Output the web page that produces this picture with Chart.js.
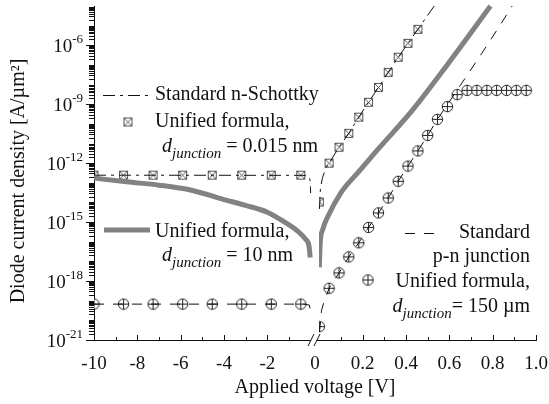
<!DOCTYPE html>
<html>
<head>
<meta charset="utf-8">
<title>Diode current density</title>
<script src="https://cdn.jsdelivr.net/npm/chart.js@4.4.0/dist/chart.umd.min.js"></script>
<style>
  html, body { margin: 0; padding: 0; background: #fff; }
  #wrap { width: 549px; height: 404px; }
</style>
</head>
<body>
<div id="wrap"><canvas id="diodeChart" width="549" height="404"></canvas></div>
<script>
// Diode current density vs applied voltage, broken x axis (reverse | forward)

const SERIF = '"Liberation Serif", "Times New Roman", serif';
const INK = '#111';
const GRAY = '#828282';

// x axis ticks (volts) and their labels
const xTickVolts  = [-10, -8, -6, -4, -2, 0, 0.2, 0.4, 0.6, 0.8, 1.0];
const xTickLabels = ['-10', '-8', '-6', '-4', '-2', '0', '0.2', '0.4', '0.6', '0.8', '1.0'];
const xMinorVolts = [-9, -7, -5, -3, -1, 0.1, 0.3, 0.5, 0.7, 0.9];

// y axis labelled ticks
const yTickValues = [1e-21, 1e-18, 1e-15, 1e-12, 1e-9, 1e-6];
const yTickExps   = ['-21', '-18', '-15', '-12', '-9', '-6'];

// marker voltages
const markerVoltsRev = [-10, -8.636, -7.273, -5.909, -4.545, -3.182, -1.818, -0.455];
const markerVoltsFwd = [0, 0.045, 0.091, 0.136, 0.182, 0.227, 0.273, 0.318, 0.364, 0.409, 0.455,
                        0.5, 0.545, 0.591, 0.636, 0.682, 0.727, 0.773, 0.818, 0.864, 0.909, 0.955];

// Standard n-Schottky (dash-dot line)
const schottkyRevVolts = [-10, -0.3, -0.08, -0.03, -0.01, -0.004];
const schottkyRevJ     = [2.45e-13, 2.4e-13, 2.1e-13, 1.4e-13, 6e-14, 3e-14];
const schottkyFwdVolts = [0.0005, 0.005, 0.015, 0.03, 0.045, 0.091, 0.136, 0.182, 0.227, 0.273,
                          0.318, 0.364, 0.409, 0.455, 0.53];
const schottkyFwdJ     = [4.7e-15, 5.4e-14, 1.9e-13, 5.6e-13, 1.0e-12, 6.5e-12, 3.3e-11, 2.2e-10,
                          1.26e-9, 7.2e-9, 4.2e-8, 2.45e-7, 1.26e-6, 6.5e-6, 1.0e-4];

// Unified formula, d = 0.015 nm (square markers)
const thinRevJ = [2.45e-13, 2.45e-13, 2.45e-13, 2.45e-13, 2.45e-13, 2.45e-13, 2.45e-13, 2.45e-13];
const thinFwdJ = [1.05e-14, 1.0e-12, 6.5e-12, 3.3e-11, 2.2e-10, 1.26e-9, 7.2e-9, 4.2e-8,
                  2.45e-7, 1.26e-6, 6.5e-6];

// Unified formula, d = 10 nm (thick gray line)
const midRevVolts = [-10, -8.5, -7, -5.5, -4, -3, -2, -1.2, -0.6, -0.25, -0.08, -0.02];
const midRevJ     = [1.74e-13, 1.12e-13, 7.6e-14, 4.2e-14, 1.41e-14, 7.1e-15, 3.2e-15, 1.0e-15,
                     3.5e-16, 1.41e-16, 6.3e-17, 1.6e-17];
const midFwdVolts = [0, 0.004, 0.015, 0.04, 0.1, 0.18, 0.27, 0.43, 0.59, 0.79];
const midFwdJ     = [5e-18, 8.5e-17, 4e-16, 2e-15, 3.2e-14, 3.5e-13, 5e-12, 5e-10, 1e-7, 1e-4];

// Standard p-n junction (dashed line)
const pnRevVolts = [-10, -0.3, -0.06, -0.02, -0.005];
const pnRevJ     = [6.7e-20, 6.7e-20, 6e-20, 3.5e-20, 1.5e-20];
const pnFwdVolts = [0.001, 0.01, 0.02, 0.045, 0.091, 0.136, 0.182, 0.227, 0.273, 0.318, 0.364,
                    0.409, 0.455, 0.5, 0.545, 0.664, 0.75, 0.833, 0.89];
const pnFwdJ     = [2.6e-21, 3.2e-20, 7.8e-20, 4.3e-19, 2.6e-18, 1.7e-17, 8.9e-17, 5.4e-16,
                    2.95e-15, 1.7e-14, 1.2e-13, 7.1e-13, 4.2e-12, 2.6e-11, 1.7e-10, 1.5e-8,
                    3.9e-7, 1.0e-5, 1.0e-4];

// Unified formula, d = 150 um (circle-plus markers)
const thickRevJ = [6.7e-20, 6.7e-20, 6.7e-20, 6.7e-20, 6.7e-20, 6.7e-20, 6.7e-20, 6.7e-20];
const thickFwdJ = [4.8e-21, 4.3e-19, 2.6e-18, 1.7e-17, 8.9e-17, 5.4e-16, 2.95e-15, 1.7e-14,
                   1.2e-13, 7.1e-13, 4.2e-12, 2.6e-11, 1.7e-10, 7.6e-10, 3.1e-9, 5.1e-9,
                   5.1e-9, 5.1e-9, 5.1e-9, 5.1e-9, 5.1e-9, 5.1e-9];

// reverse part uses volts directly, forward part is stretched x10 after a small gap
const FWD_OFFSET = 0.4;
function toAxis(v) {
    return v < 0 ? v : FWD_OFFSET + 10 * v;
}
function pts(volts, vals) {
    return vals.map((j, i) => ({ x: toAxis(volts[i]), y: j }));
}

const SCHOTTKY_DASH = [12, 5, 3, 5];
const PN_DASH = [10, 9];

/**
 * Small canvases used as point styles
 */
function makeSquareMarker() {
    const c = document.createElement('canvas');
    c.width = 11; c.height = 11;
    const g = c.getContext('2d');
    g.strokeStyle = '#444';
    g.lineWidth = 0.9;
    g.strokeRect(1.5, 1.5, 8, 8);
    g.beginPath();
    g.moveTo(2, 2); g.lineTo(9, 9);
    g.moveTo(9, 2); g.lineTo(2, 9);
    g.stroke();
    return c;
}
function makeCircleMarker() {
    const c = document.createElement('canvas');
    c.width = 13; c.height = 13;
    const g = c.getContext('2d');
    g.strokeStyle = '#222';
    g.lineWidth = 1;
    g.fillStyle = '#fff';
    g.beginPath();
    g.arc(6.5, 6.5, 5.2, 0, Math.PI * 2);
    g.fill();
    g.stroke();
    g.beginPath();
    g.moveTo(1.3, 6.5); g.lineTo(11.7, 6.5);
    g.moveTo(6.5, 1.3); g.lineTo(6.5, 11.7);
    g.stroke();
    return c;
}
const squareMarker = makeSquareMarker();
const circleMarker = makeCircleMarker();

// forward datasets are clipped at the right-hand zero of the broken axis
const FWD_CLIP = { left: -225, top: 6, right: 0, bottom: 0 };

function lineSet(data, opts) {
    return Object.assign({
        data: data,
        showLine: true,
        borderColor: INK,
        borderWidth: 1,
        pointRadius: 0,
        fill: false,
        tension: 0
    }, opts);
}
function markerSet(data, marker, opts) {
    return Object.assign({
        data: data,
        showLine: false,
        pointStyle: marker,
        pointRadius: 5,
        borderColor: INK
    }, opts);
}

const datasets = [
    lineSet(pts(midRevVolts, midRevJ), { borderColor: GRAY, borderWidth: 5, cubicInterpolationMode: 'monotone' }),
    lineSet(pts(midFwdVolts, midFwdJ), { borderColor: GRAY, borderWidth: 5, cubicInterpolationMode: 'monotone', clip: FWD_CLIP }),
    lineSet(pts(schottkyRevVolts, schottkyRevJ), { borderDash: SCHOTTKY_DASH }),
    lineSet(pts(schottkyFwdVolts, schottkyFwdJ), { borderDash: SCHOTTKY_DASH, clip: FWD_CLIP }),
    lineSet(pts(pnRevVolts, pnRevJ), { borderDash: PN_DASH }),
    lineSet(pts(pnFwdVolts, pnFwdJ), { borderDash: PN_DASH, clip: FWD_CLIP }),
    markerSet(pts(markerVoltsRev, thinRevJ), squareMarker),
    markerSet(pts(markerVoltsFwd, thinFwdJ), squareMarker, { clip: FWD_CLIP }),
    markerSet(pts(markerVoltsRev, thickRevJ), circleMarker),
    markerSet(pts(markerVoltsFwd, thickFwdJ), circleMarker, { clip: FWD_CLIP })
];

/**
 * d_junction label: italic d, italic subscript, then regular tail
 */
function drawDJunction(ctx, x, baseline, tail, align) {
    ctx.font = `italic 20px ${SERIF}`;
    const wd = ctx.measureText('d').width;
    ctx.font = `italic 15px ${SERIF}`;
    const wj = ctx.measureText('junction').width;
    ctx.font = `20px ${SERIF}`;
    const wt = ctx.measureText(tail).width;
    let x0 = align === 'right' ? x - (wd + wj + wt) : x;
    ctx.textAlign = 'left';
    ctx.textBaseline = 'alphabetic';
    ctx.font = `italic 20px ${SERIF}`;
    ctx.fillText('d', x0, baseline);
    ctx.font = `italic 15px ${SERIF}`;
    ctx.fillText('junction', x0 + wd, baseline + 6);
    ctx.font = `20px ${SERIF}`;
    ctx.fillText(tail, x0 + wd + wj, baseline);
}

function sampleLine(ctx, x1, x2, y, width, color, dash) {
    ctx.save();
    ctx.strokeStyle = color;
    ctx.lineWidth = width;
    ctx.setLineDash(dash || []);
    ctx.beginPath();
    ctx.moveTo(x1, y);
    ctx.lineTo(x2, y);
    ctx.stroke();
    ctx.restore();
}

const decorPlugin = {
    id: 'diodeDecor',
    afterDraw(chart) {
        const ctx = chart.ctx;
        const xs = chart.scales.x;
        const ys = chart.scales.y;
        const area = chart.chartArea;

        ctx.save();
        ctx.strokeStyle = INK;
        ctx.fillStyle = INK;
        ctx.lineWidth = 1;

        // y minor ticks (outward)
        ctx.beginPath();
        for (let e = -21; e < -4; e++) {
            for (let m = 1; m <= 9; m++) {
                const v = m * Math.pow(10, e);
                if (m === 1 && (e + 21) % 3 === 0) continue;
                const y = Math.round(ys.getPixelForValue(v)) + 0.5;
                if (y < area.top - 0.5) continue;
                ctx.moveTo(area.left - 5, y);
                ctx.lineTo(area.left, y);
            }
        }
        ctx.stroke();

        // y tick labels 10^n
        ctx.textBaseline = 'alphabetic';
        yTickValues.forEach((v, i) => {
            const y = ys.getPixelForValue(v);
            ctx.font = `13px ${SERIF}`;
            const we = ctx.measureText(yTickExps[i]).width;
            ctx.textAlign = 'left';
            ctx.fillText(yTickExps[i], 83 - we, y - 2);
            ctx.font = `19px ${SERIF}`;
            ctx.textAlign = 'right';
            ctx.fillText('10', 83 - we, y + 7);
        });

        // y axis title
        ctx.save();
        ctx.translate(19, (area.top + area.bottom) / 2 + 8);
        ctx.rotate(-Math.PI / 2);
        ctx.font = `20px ${SERIF}`;
        ctx.textAlign = 'center';
        ctx.textBaseline = 'middle';
        ctx.fillText('Diode current density [A/\u00b5m\u00b2]', 0, 0);
        ctx.restore();

        // x ticks (inward)
        ctx.beginPath();
        xTickVolts.forEach(v => {
            if (v === 0) return;
            const x = Math.round(xs.getPixelForValue(toAxis(v))) + 0.5;
            ctx.moveTo(x, area.bottom);
            ctx.lineTo(x, area.bottom - 5);
        });
        xMinorVolts.forEach(v => {
            const x = Math.round(xs.getPixelForValue(toAxis(v))) + 0.5;
            ctx.moveTo(x, area.bottom);
            ctx.lineTo(x, area.bottom - 3);
        });
        ctx.stroke();

        // axis break
        const xl = xs.getPixelForValue(0);
        const xr = xs.getPixelForValue(FWD_OFFSET);
        const mid = (xl + xr) / 2 - 1;
        ctx.fillStyle = '#fff';
        ctx.fillRect(mid - 3, area.bottom - 2, 6, 4);
        ctx.beginPath();
        ctx.moveTo(mid - 6, area.bottom + 6);
        ctx.lineTo(mid, area.bottom - 6);
        ctx.moveTo(mid, area.bottom + 6);
        ctx.lineTo(mid + 6, area.bottom - 6);
        ctx.stroke();

        // legend, upper left
        ctx.fillStyle = INK;
        sampleLine(ctx, 103, 152, 95.5, 1, INK, SCHOTTKY_DASH);
        ctx.font = `20px ${SERIF}`;
        ctx.textAlign = 'left';
        ctx.fillText('Standard n-Schottky', 155, 100);
        ctx.drawImage(squareMarker, 128 - 5.5, 122 - 5.5);
        ctx.font = `20px ${SERIF}`;
        ctx.fillText('Unified formula,', 155, 127);
        drawDJunction(ctx, 162, 152, ' = 0.015 nm', 'left');

        // legend, gray curve
        sampleLine(ctx, 104, 150, 230, 5, GRAY);
        ctx.font = `20px ${SERIF}`;
        ctx.textAlign = 'left';
        ctx.fillText('Unified formula,', 155, 237);
        drawDJunction(ctx, 162, 261, ' = 10 nm', 'left');

        // legend, lower right
        sampleLine(ctx, 405, 436, 233.5, 1, INK, PN_DASH);
        ctx.font = `20px ${SERIF}`;
        ctx.textAlign = 'right';
        ctx.fillText('Standard', 530, 238);
        ctx.fillText('p-n junction', 530, 262);
        ctx.drawImage(circleMarker, 368 - 6.5, 280 - 6.5);
        ctx.font = `20px ${SERIF}`;
        ctx.textAlign = 'right';
        ctx.fillText('Unified formula,', 530, 287);
        drawDJunction(ctx, 530, 312, '= 150 \u00b5m', 'right');

        ctx.restore();
    }
};

new Chart(document.getElementById('diodeChart'), {
    type: 'scatter',
    data: { datasets: datasets },
    plugins: [decorPlugin],
    options: {
        responsive: false,
        devicePixelRatio: 1,
        animation: false,
        layout: { padding: { left: 0, right: 13, top: 5, bottom: 0 } },
        plugins: {
            legend: { display: false },
            tooltip: { enabled: false }
        },
        scales: {
            x: {
                type: 'linear',
                min: toAxis(-10),
                max: toAxis(1.0),
                afterBuildTicks: scale => {
                    scale.ticks = xTickVolts.map(v => ({ value: v === 0 ? FWD_OFFSET / 2 : toAxis(v) }));
                },
                afterFit: scale => {
                    scale.height = 64;
                    scale.paddingLeft = 0;
                    scale.paddingRight = 0;
                },
                ticks: {
                    autoSkip: false,
                    maxRotation: 0,
                    minRotation: 0,
                    padding: 13,
                    color: INK,
                    font: { family: SERIF, size: 19 },
                    callback: (value, index) => xTickLabels[index]
                },
                grid: { display: true, drawOnChartArea: false, drawTicks: false },
                border: { display: true, color: INK, width: 1 },
                title: {
                    display: true,
                    text: 'Applied voltage [V]',
                    color: INK,
                    font: { family: SERIF, size: 20 },
                    padding: { top: 0, bottom: 4 }
                }
            },
            y: {
                type: 'logarithmic',
                min: 1e-21,
                max: 1e-4,
                afterBuildTicks: scale => {
                    scale.ticks = yTickValues.map(v => ({ value: v }));
                },
                afterFit: scale => {
                    scale.width = 94;
                    scale.paddingTop = 0;
                    scale.paddingBottom = 0;
                },
                ticks: { display: false },
                grid: { display: true, drawOnChartArea: false, drawTicks: true, tickLength: 8, color: INK },
                border: { display: true, color: INK, width: 1 }
            }
        }
    }
});
</script>
</body>
</html>
